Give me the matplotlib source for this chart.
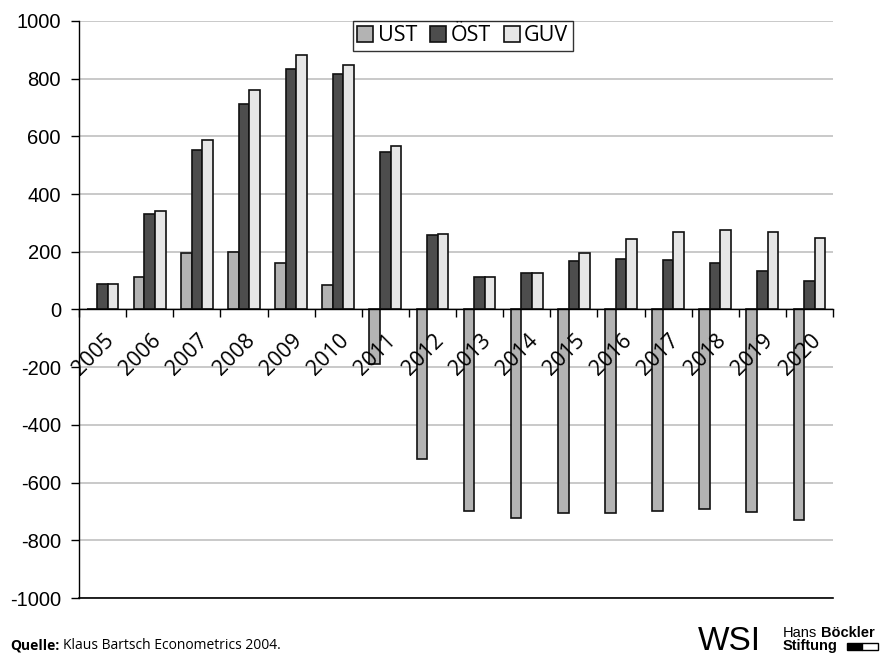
import matplotlib
matplotlib.use("Agg")
import matplotlib.pyplot as plt
import numpy as np
from matplotlib.patches import Rectangle

# Data
years = ["2005", "2006", "2007", "2008", "2009", "2010", "2011", "2012",
         "2013", "2014", "2015", "2016", "2017", "2018", "2019", "2020"]
ust = [3, 114, 195, 200, 161, 84, -190, -518, -698, -722, -705, -704,
       -698, -692, -701, -729]
oest = [90, 331, 554, 712, 835, 817, 546, 258, 114, 125, 167, 175, 171,
        161, 135, 100]
guv = [88, 341, 586, 762, 882, 849, 566, 263, 111, 127, 195, 243, 269,
       277, 268, 249]
series_names = ["UST", "ÖST", "GUV"]
y_ticks = [1000, 800, 600, 400, 200, 0, -200, -400, -600, -800, -1000]

colors = ["#b3b3b3", "#4d4d4d", "#e6e6e6"]
W, H = 880, 657
fig = plt.figure(figsize=(W / 100, H / 100), dpi=100)
ax = fig.add_axes([79 / W, 1 - 598 / H, (833 - 79) / W, (598 - 21) / H])

x = np.arange(len(years))
bw = 0.225
for k, (vals, col, name) in enumerate(zip([ust, oest, guv], colors, series_names)):
    ax.bar(x + (k - 1) * bw, vals, width=bw, color=col, edgecolor="#111111",
           linewidth=1.2, label=name, zorder=3)

ax.set_xlim(-0.5, len(years) - 0.5)
ax.set_ylim(-1000, 1000)
ax.set_yticks(y_ticks)
ax.set_yticklabels([str(v) for v in y_ticks], fontsize=14.5,
                   family="Liberation Sans")
ax.tick_params(axis="y", length=6, width=1, pad=7, color="black")
ax.yaxis.grid(True, color="#c0c0c0", linewidth=1.2, zorder=0)
ax.set_axisbelow(True)

# zero line acts as category axis with ticks between groups
ax.spines["bottom"].set_position(("data", 0))
ax.spines["bottom"].set_zorder(4)
ax.spines["bottom"].set_linewidth(1.0)
ax.set_xticks(np.arange(len(years) + 1) - 0.5)
ax.set_xticklabels([])
ax.tick_params(axis="x", length=6, width=1, direction="out", color="black")
ax.spines["top"].set_visible(False)
ax.spines["right"].set_visible(False)
ax.spines["left"].set_linewidth(1.0)
ax.axhline(-1000, color="black", linewidth=1.2, zorder=4, clip_on=False)

for i, yr in enumerate(years):
    ax.text(i - 0.2, -158, yr, rotation=45, ha="center", va="center",
            fontsize=15.5, family="Open Sans", zorder=5)

leg = ax.legend(loc="upper center", bbox_to_anchor=(0.509, 1.0), ncol=3,
                frameon=True, fancybox=False, edgecolor="black",
                prop={"family": "Open Sans", "size": 15.5},
                handlelength=0.75, handleheight=0.75, handletextpad=0.2,
                columnspacing=0.6, borderpad=0.2, borderaxespad=0.0)
leg.get_frame().set_linewidth(1.0)

renderer = fig.canvas.get_renderer()

# footer: source line
t1 = fig.text(10 / W, 1 - 649 / H, "Quelle:", fontsize=10, weight="bold",
              family="Open Sans", va="baseline")
x1 = t1.get_window_extent(renderer).x1
fig.text(x1 / W + 4 / W, 1 - 649 / H, "Klaus Bartsch Econometrics 2004.",
         fontsize=10, family="Open Sans", va="baseline")

# footer: logo
fig.text(698 / W, 1 - 650 / H, "WSI", fontsize=24, family="Liberation Sans",
         va="baseline")
t2 = fig.text(783 / W, 1 - 637 / H, "Hans", fontsize=10.5,
              family="Liberation Sans", va="baseline")
x2 = t2.get_window_extent(renderer).x1
fig.text(x2 / W + 4 / W, 1 - 637 / H, "Böckler", fontsize=10.5,
         family="Liberation Sans", weight="bold", va="baseline")
fig.text(783 / W, 1 - 650 / H, "Stiftung", fontsize=10.5,
         family="Liberation Sans", weight="bold", va="baseline")
fig.patches.append(Rectangle((847 / W, 1 - 650 / H), 15 / W, 7 / H,
                             transform=fig.transFigure, facecolor="black",
                             edgecolor="black", linewidth=1))
fig.patches.append(Rectangle((862 / W, 1 - 650 / H), 16 / W, 7 / H,
                             transform=fig.transFigure, facecolor="white",
                             edgecolor="black", linewidth=1))

fig.savefig("out.png", dpi=100)
